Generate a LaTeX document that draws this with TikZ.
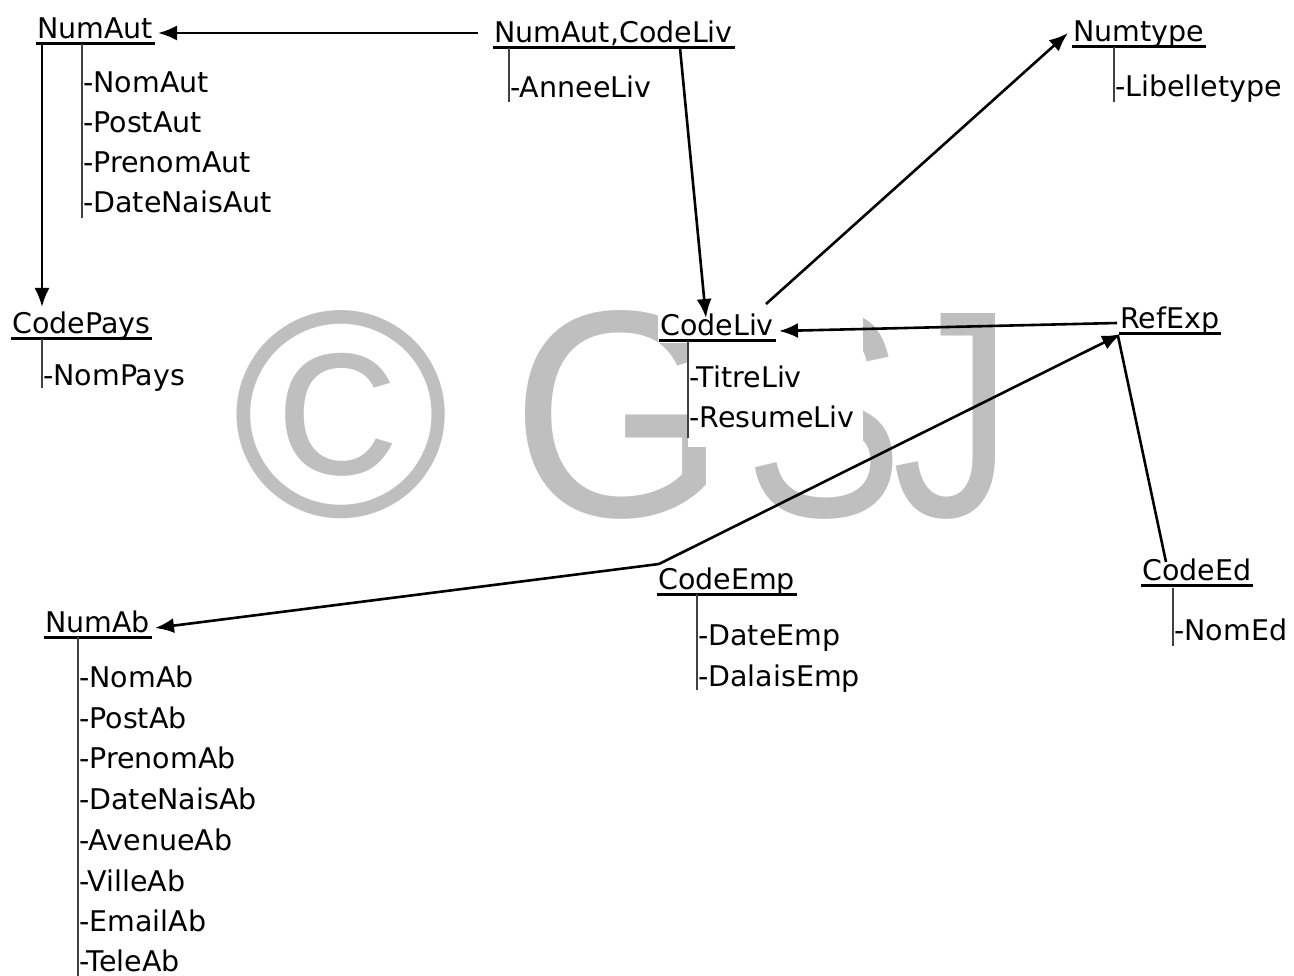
\documentclass[tikz,border=0pt]{standalone}
\usepackage{fontspec}
\setmainfont{DejaVu Sans}
\newfontfamily\wmfont{Liberation Sans}
\usetikzlibrary{arrows.meta}
\begin{document}
\begin{tikzpicture}[x=1pt,y=-1pt,
  hd/.style={anchor=base west, inner sep=0pt, font=\fontsize{28.5}{34}\selectfont},
  attr/.style={anchor=base west, inner sep=0pt, font=\fontsize{28.5}{34}\selectfont},
  ul/.style={line width=3pt},
  vl/.style={line width=1.3pt, black!75},
  con/.style={line width=2.6pt},
  arr/.style={con, -{Latex[length=19pt,width=15pt]}},
  wm/.style={inner sep=0pt, anchor=base, text=black!25, font=\wmfont\fontsize{295}{295}\selectfont}]
\useasboundingbox (0,0) rectangle (1294,976);

% watermark
\node[wm] (wmc) at (341,516) {©};
\node[wm] (wmg) at (619,516) {\scalebox{0.94}[1]{G}};
\node[wm] (wms) at (824,516) {\scalebox{0.81}[1]{S}};
\node[wm] (wmj) at (953,516) {\scalebox{0.82}[1]{J}};
\fill[white] (658,298) rectangle (863,343);
\fill[white] (688,343) rectangle (863,447);

% headers
\node[hd] (numaut)   at (37,39)   {NumAut};
\node[hd] (nac)      at (494,43)  {NumAut,CodeLiv};
\node[hd] (numtype)  at (1073,42) {Numtype};
\node[hd] (codepays) at (12,334)  {CodePays};
\node[hd] (codeliv)  at (660,336) {CodeLiv};
\node[hd] (refexp)   at (1120,329){RefExp};
\node[hd] (codeemp)  at (658,589) {CodeEmp};
\node[hd] (codeed)   at (1142,580){CodeEd};
\node[hd] (numab)    at (45,632)  {NumAb};

% underlines
\foreach \n in {numaut,nac,numtype,codepays,codeliv,refexp,codeemp,codeed,numab}{
  \draw[ul] ([xshift=-1pt,yshift=-5pt]\n.base west) -- ([xshift=2pt,yshift=-5pt]\n.base east);
}

% attributes
\draw[vl] (82,44) -- (82,218);
\node[attr] (a1) at (83,93)  {-NomAut};
\node[attr] (a2) at (83,133) {-PostAut};
\node[attr] (a3) at (83,173) {-PrenomAut};
\node[attr] (a4) at (83,213) {-DateNaisAut};

\draw[vl] (509,48) -- (509,102);
\node[attr] (b1) at (510,98) {-AnneeLiv};

\draw[vl] (1114,47) -- (1114,102);
\node[attr] (c1) at (1115,97) {-Libelletype};

\draw[vl] (42,339) -- (42,388);
\node[attr] (d1) at (43,385) {-NomPays};

\draw[vl] (688,341) -- (688,438);
\node[attr] (e1) at (689,388) {-TitreLiv};
\node[attr] (e2) at (689,428) {-ResumeLiv};

\draw[vl] (1173,588) -- (1173,646);
\node[attr] (f1) at (1174,640) {-NomEd};

\draw[vl] (697,594) -- (697,690);
\node[attr] (g1) at (698,645) {-DateEmp};
\node[attr] (g2) at (698,686) {-DalaisEmp};

\draw[vl] (78,637) -- (78,976);
\node[attr] (h1) at (79,687) {-NomAb};
\node[attr] (h2) at (79,728) {-PostAb};
\node[attr] (h3) at (79,768) {-PrenomAb};
\node[attr] (h4) at (79,809) {-DateNaisAb};
\node[attr] (h5) at (79,850) {-AvenueAb};
\node[attr] (h6) at (79,891) {-VilleAb};
\node[attr] (h7) at (79,931) {-EmailAb};
\node[attr] (h8) at (79,971) {-TeleAb};

% connector end points
\coordinate (nacL)    at (478,33);
\coordinate (numautR) at (158,33);
\coordinate (numautB) at (42,44);
\coordinate (codepaysT) at (42,307);
\coordinate (nacB)    at (680,48);
\coordinate (codelivT) at (706,318);
\coordinate (codelivR) at (766,304);
\coordinate (numtypeL) at (1068,33);
\coordinate (refexpL) at (1117,323);
\coordinate (codelivE) at (779,331);
\coordinate (codeempTL) at (659,564);
\coordinate (refexpB) at (1121,334);
\coordinate (numabR) at (155,628);
\coordinate (refexpD) at (1118,336);
\coordinate (codeedT) at (1166,562);

% connectors
\draw[arr] (nacL) -- (numautR);
\draw[arr] (numautB) -- (codepaysT);
\draw[arr] (nacB) -- (codelivT);
\draw[arr] (codelivR) -- (numtypeL);
\draw[arr] (refexpL) -- (codelivE);
\draw[arr] (codeempTL) -- (refexpB);
\draw[arr] (codeempTL) -- (numabR);
\draw[con] (refexpD) -- (codeedT);
\end{tikzpicture}
\end{document}
